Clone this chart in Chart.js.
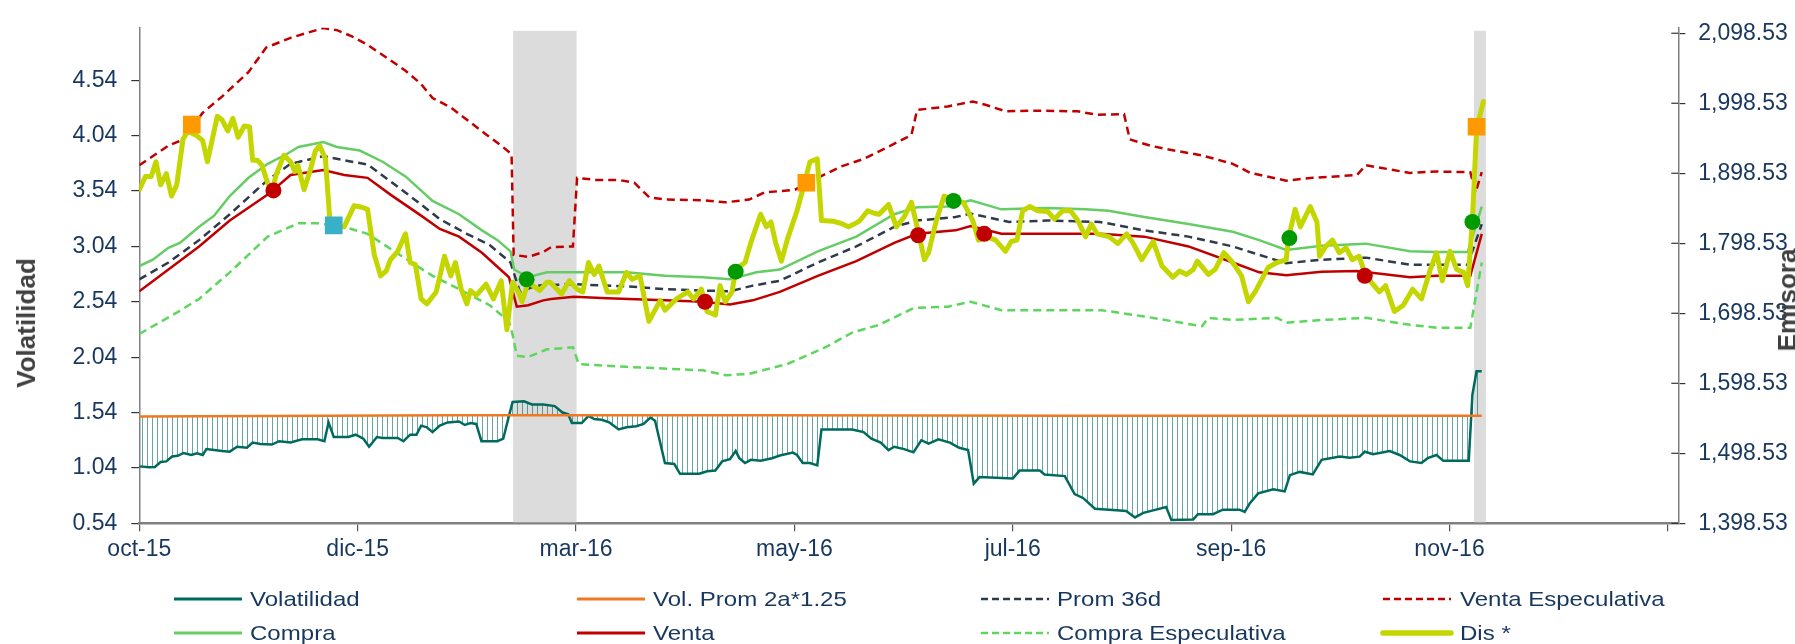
<!DOCTYPE html>
<html>
<head>
<meta charset="utf-8">
<script src="https://cdn.jsdelivr.net/npm/chart.js@4.4.0/dist/chart.umd.min.js"></script>
<style>
  body { margin: 0; background: #fff; overflow: hidden; }
  #wrap { position: relative; width: 1795px; height: 644px; overflow: hidden; font-family: "Liberation Sans", Arial, sans-serif; }
  #chart { position: absolute; left: 0; top: 0; }
  .leg { position: absolute; font-size: 21px; line-height: 21px; color: #17375E; white-space: nowrap; transform: scaleX(1.145); transform-origin: 0 50%; }
  .ttl { position: absolute; font-weight: bold; font-size: 26px; line-height: 26px; color: #404040; white-space: nowrap; transform: translate(-50%, -50%) rotate(-90deg); }
</style>
</head>
<body>
<div id="wrap">
  <canvas id="chart" width="1795" height="644"></canvas>
  <div class="ttl" style="left:26px; top:323px;">Volatilidad</div>
  <div class="ttl" style="left:1787px; top:300px;">Emisora</div>
</div>
<script>
// x axis: trading-day index, tick every 42 days
const tickPos = [0, 42, 84, 126, 168, 210, 252, 294];
const xLabels = ['oct-15', 'dic-15', 'mar-16', 'may-16', 'jul-16', 'sep-16', 'nov-16', ''];
const volTicks = [0.54, 1.04, 1.54, 2.04, 2.54, 3.04, 3.54, 4.04, 4.54];
const priceTicks = [1398.53, 1498.53, 1598.53, 1698.53, 1798.53, 1898.53, 1998.53, 2098.53];

// shaded periods (start, end day index)
const bandStart = [71.9, 256.7];
const bandEnd = [84.1, 259.0];

// Dis * (emisora price)
const disX = [0, 1.2, 2.3, 3.2, 4.1, 5.2, 6.2, 7.2, 8.4, 9.3, 11.1, 12.2, 13.1, 15.0, 15.9, 17.0, 18.0, 19.0, 20.2, 21.2,
  21.8, 22.7, 23.6, 24.7, 25.6, 26.3, 27.8, 29.1, 29.9, 30.5, 31.7, 32.8, 33.9, 34.7, 35.8, 36.6, 37.4, 39.4, 41.3, 42.8,
  43.9, 45.2, 46.4, 47.5, 48.3, 49.7, 51.2, 52.1, 53.1, 54.2, 55.3, 57.1, 58.7, 59.9, 60.8, 61.9, 63.0, 63.7, 64.8, 66.7,
  68.1, 69.6, 70.7, 71.8, 72.9, 73.6, 74.8, 77.0, 78.4, 79.0, 81.2, 82.7, 84.2, 85.3, 86.4, 87.5, 88.4, 90.0, 92.2, 93.7,
  94.8, 96.3, 98.0, 100.2, 101.1, 103.3, 105.5, 106.6, 108.1, 109.2, 110.8, 111.7, 112.7, 114.0, 114.7, 116.5, 117.6, 119.5, 120.6, 121.5,
  122.4, 123.5, 124.6, 126.5, 127.6, 129.0, 130.4, 131.2, 133.5, 134.9, 136.4, 137.5, 138.6, 140.1, 141.5, 142.3, 144.1, 145.6, 147.1, 148.5,
  149.6, 151.0, 151.8, 153.3, 154.8, 156.6, 158.5, 160.3, 161.4, 162.9, 164.7, 166.6, 167.7, 168.8, 169.9, 171.3, 172.8, 174.7, 176.0, 177.6,
  179.1, 180.5, 182.0, 183.1, 184.2, 186.5, 188.2, 189.9, 191.1, 192.8, 195.0, 196.7, 198.8, 200.1, 201.4, 202.7, 203.5, 205.6, 206.9, 208.6,
  210.3, 212.0, 213.3, 214.6, 215.9, 217.1, 218.8, 220.6, 221.0, 222.3, 223.3, 225.2, 226.5, 227.0, 228.2, 229.5, 230.8, 232.1, 233.3, 234.6,
  235.9, 238.5, 239.7, 241.4, 243.1, 244.9, 246.6, 248.3, 249.5, 250.6, 252.1, 253.4, 254.7, 255.5, 256.4, 257.2, 258.5];
const disY = [1875, 1894, 1894, 1915, 1882, 1898, 1866, 1882, 1947, 1959, 1952, 1945, 1915, 1980, 1975, 1959, 1977, 1950, 1966, 1965,
  1917, 1917, 1910, 1884, 1874, 1896, 1924, 1915, 1901, 1910, 1875, 1901, 1931, 1938, 1919, 1836, 1824, 1822, 1852, 1850,
  1847, 1782, 1752, 1759, 1775, 1787, 1812, 1771, 1768, 1719, 1712, 1729, 1780, 1752, 1771, 1733, 1712, 1731, 1724, 1740,
  1719, 1745, 1675, 1743, 1729, 1715, 1743, 1731, 1743, 1743, 1726, 1745, 1733, 1729, 1771, 1754, 1766, 1729, 1729, 1757,
  1747, 1752, 1687, 1717, 1703, 1719, 1729, 1719, 1733, 1701, 1696, 1738, 1715, 1729, 1761, 1771, 1799, 1840, 1822, 1829,
  1799, 1773, 1803, 1845, 1875, 1915, 1919, 1831, 1830, 1827, 1822, 1826, 1831, 1845, 1841, 1840, 1854, 1822, 1836, 1857,
  1822, 1775, 1785, 1831, 1866, 1860, 1857, 1831, 1803, 1808, 1803, 1787, 1801, 1803, 1845, 1851, 1845, 1844, 1833, 1845,
  1845, 1831, 1808, 1826, 1812, 1808, 1798, 1812, 1799, 1775, 1801, 1766, 1750, 1759, 1754, 1761, 1773, 1754, 1761, 1785,
  1771, 1752, 1715, 1729, 1747, 1764, 1771, 1775, 1805, 1847, 1822, 1851, 1829, 1780, 1794, 1803, 1785, 1792, 1775, 1780,
  1752, 1729, 1738, 1701, 1710, 1733, 1719, 1761, 1785, 1745, 1787, 1761, 1757, 1738, 1831, 1961, 2001];

// Compra
const compraX = [0, 2.6, 5.6, 7.8, 11.5, 14.4, 17.4, 21.0, 24.7, 28.4, 30.6, 35.4, 38.0, 42.4, 46.8, 51.2, 56.4, 61.5, 65.9, 68.9,
  71.4, 72.1, 74.8, 78.4, 86.4, 93.7, 101.1, 108.4, 113.6, 118.7, 123.2, 130.5, 137.9, 145.2, 149.6, 155.5, 159.9, 165.8, 174.7, 182.0,
  186.4, 193.3, 201.8, 210.3, 215.4, 220.6, 227.4, 235.9, 244.4, 249.5, 255.5, 258.2];
const compraY = [1766, 1775, 1792, 1799, 1822, 1838, 1866, 1892, 1912, 1926, 1936, 1943, 1936, 1931, 1915, 1894, 1859, 1840, 1817, 1803,
  1787, 1761, 1750, 1757, 1757, 1757, 1752, 1750, 1747, 1757, 1761, 1787, 1808, 1840, 1850, 1851, 1860, 1847, 1849, 1847,
  1845, 1836, 1826, 1815, 1803, 1789, 1795, 1798, 1787, 1786, 1786, 1851];

// Prom 36d
const promX = [0, 5.6, 11.5, 17.4, 24.7, 29.1, 35.4, 40.9, 43.9, 48.3, 54.2, 57.8, 63.0, 67.4, 71.4, 73.2, 76.2, 83.6, 93.7, 101.1,
  108.4, 113.6, 118.0, 123.2, 130.5, 137.9, 145.2, 149.6, 157.0, 159.9, 167.3, 174.7, 184.75, 193.3, 201.8, 210.3, 215.4, 220.6, 227.4, 235.9,
  244.4, 255.5, 258.2];
const promY = [1747, 1771, 1803, 1840, 1889, 1912, 1923, 1915, 1911, 1887, 1854, 1833, 1812, 1796, 1771, 1729, 1738, 1740, 1737, 1733,
  1731, 1730, 1738, 1745, 1771, 1794, 1822, 1831, 1836, 1841, 1829, 1831, 1829, 1817, 1808, 1794, 1782, 1770, 1775, 1778,
  1768, 1768, 1826];

// Venta
const ventaX = [0, 5.6, 11.5, 17.4, 24.7, 29.1, 35.4, 39.4, 43.9, 48.3, 54.2, 57.8, 61.5, 65.9, 71.1, 72.6, 74.8, 77.7, 79.2, 83.6,
  90.0, 101.1, 108.4, 113.6, 118.0, 123.2, 130.5, 137.9, 145.2, 149.6, 157.0, 159.9, 165.8, 174.7, 184.75, 193.3, 201.8, 210.3, 215.4, 220.6,
  227.4, 234.2, 244.4, 249.5, 256.0, 258.2];
const ventaY = [1730, 1761, 1794, 1831, 1868, 1896, 1903, 1896, 1892, 1868, 1838, 1819, 1808, 1785, 1750, 1708, 1710, 1717, 1719, 1722,
  1720, 1717, 1715, 1711, 1717, 1729, 1752, 1773, 1799, 1812, 1817, 1823, 1812, 1812, 1812, 1808, 1794, 1771, 1757, 1753,
  1758, 1759, 1750, 1752, 1752, 1812];

// Venta Especulativa
const ventaEspX = [0, 5.6, 8.5, 12.2, 15.9, 21.0, 24.4, 29.1, 35.4, 38.0, 40.9, 43.9, 47.5, 51.2, 54.2, 56.4, 60.0, 63.0, 66.7, 69.6,
  71.6, 72.0, 74.8, 77.7, 79.2, 83.4, 84.2, 87.8, 92.2, 95.2, 98.1, 101.1, 108.4, 112.8, 117.3, 120.2, 126.1, 130.5, 134.9, 139.3,
  144.5, 148.5, 149.6, 155.5, 160.3, 162.9, 166.6, 171.7, 180.5, 184.2, 189.4, 190.5, 194.4, 197.5, 204.4, 210.3, 213.7, 220.6, 225.7, 234.2,
  235.9, 244.4, 249.5, 256.0, 257.0, 258.2];
const ventaEspY = [1910, 1938, 1947, 1985, 2008, 2043, 2078, 2092, 2106, 2103, 2094, 2082, 2064, 2045, 2026, 2006, 1992, 1975, 1954, 1938,
  1926, 1782, 1779, 1786, 1793, 1794, 1892, 1889, 1889, 1885, 1864, 1861, 1860, 1857, 1861, 1871, 1875, 1892, 1908, 1919,
  1938, 1953, 1989, 1994, 2001, 1996, 1987, 1988, 1987, 1982, 1983, 1947, 1938, 1933, 1924, 1912, 1899, 1888, 1892, 1896,
  1910, 1899, 1901, 1900, 1871, 1900];

// Compra Especulativa
const compraEspX = [0, 7.1, 11.5, 17.4, 24.7, 30.6, 34.3, 39.4, 43.9, 50.5, 56.4, 61.5, 67.4, 71.1, 71.8, 72.6, 74.8, 78.4, 82.1, 83.4,
  84.5, 93.7, 108.4, 112.8, 117.3, 124.6, 132.0, 137.1, 142.3, 148.9, 155.5, 159.9, 165.8, 174.7, 185.0, 193.3, 204.4, 205.6, 210.3, 218.8,
  220.6, 227.4, 235.9, 244.4, 249.5, 256.0, 258.2];
const compraEspY = [1669, 1699, 1719, 1757, 1808, 1827, 1827, 1822, 1812, 1780, 1752, 1733, 1710, 1687, 1668, 1638, 1636, 1647, 1649, 1650,
  1626, 1622, 1617, 1610, 1612, 1626, 1650, 1671, 1682, 1706, 1708, 1715, 1703, 1703, 1703, 1694, 1680, 1692, 1689, 1692,
  1685, 1689, 1692, 1682, 1678, 1678, 1771];

// Volatilidad (left axis)
const volX = [0, 1.9, 3.0, 4.1, 5.2, 6.3, 7.4, 8.5, 10.0, 11.1, 12.2, 12.9, 14.4, 15.9, 17.4, 18.8, 20.7, 21.8, 23.3, 25.5,
  26.9, 29.1, 31.3, 34.3, 35.6, 36.4, 37.4, 40.2, 41.6, 43.1, 44.2, 45.7, 46.8, 49.7, 50.8, 52.1, 53.3, 54.2, 55.3, 56.4,
  57.8, 59.3, 61.5, 62.6, 63.7, 64.8, 65.8, 68.9, 70.0, 71.1, 71.8, 74.0, 75.5, 77.7, 79.9, 81.4, 82.5, 83.2, 85.1, 86.4,
  87.5, 88.9, 90.4, 92.2, 93.7, 95.6, 97.0, 98.3, 99.2, 101.1, 102.9, 104.0, 107.7, 109.2, 110.8, 112.1, 113.6, 114.7, 115.4, 116.5,
  117.6, 119.5, 121.7, 123.2, 125.7, 126.5, 127.6, 129.0, 130.4, 131.2, 137.1, 139.3, 140.8, 142.6, 144.1, 145.2, 147.1, 148.9, 150.4, 151.8,
  153.7, 155.9, 157.7, 159.4, 160.5, 161.6, 168.0, 169.3, 173.2, 174.1, 178.0, 179.9, 181.5, 183.8, 187.9, 189.8, 191.5, 193.1, 195.0, 197.5,
  198.5, 202.7, 203.6, 206.5, 208.4, 211.6, 212.6, 213.6, 215.2, 218.1, 220.3, 221.3, 223.2, 225.7, 227.4, 230.9, 232.8, 234.7, 235.7, 237.3,
  240.5, 242.4, 244.4, 246.6, 247.8, 249.5, 250.8, 253.0, 255.7, 256.4, 257.2, 258.2];
const volY = [1.054, 1.046, 1.049, 1.093, 1.099, 1.143, 1.149, 1.175, 1.157, 1.172, 1.157, 1.21, 1.201, 1.193, 1.187, 1.231, 1.222, 1.269, 1.257, 1.251,
  1.281, 1.269, 1.298, 1.298, 1.281, 1.451, 1.319, 1.319, 1.34, 1.304, 1.231, 1.319, 1.31, 1.31, 1.281, 1.34, 1.34, 1.422, 1.407, 1.363,
  1.422, 1.451, 1.46, 1.428, 1.445, 1.437, 1.281, 1.281, 1.304, 1.51, 1.636, 1.642, 1.613, 1.613, 1.598, 1.54, 1.525, 1.445, 1.445, 1.51,
  1.481, 1.475, 1.451, 1.387, 1.407, 1.416, 1.437, 1.495, 1.466, 1.084, 1.075, 0.987, 0.987, 1.01, 1.016, 1.099, 1.119, 1.193, 1.128, 1.084,
  1.113, 1.105, 1.128, 1.152, 1.178, 1.157, 1.084, 1.084, 1.063, 1.387, 1.387, 1.363, 1.304, 1.269, 1.201, 1.231, 1.21, 1.181, 1.29, 1.26,
  1.298, 1.269, 1.222, 1.201, 0.898, 0.957, 0.945, 1.016, 1.016, 0.981, 0.966, 0.804, 0.769, 0.672, 0.657, 0.651, 0.593, 0.634, 0.657, 0.687,
  0.569, 0.575, 0.622, 0.622, 0.663, 0.663, 0.643, 0.722, 0.81, 0.848, 0.828, 0.975, 1.004, 0.981, 1.113, 1.142, 1.133, 1.142, 1.186, 1.163,
  1.192, 1.157, 1.099, 1.084, 1.128, 1.157, 1.104, 1.104, 1.104, 1.701, 1.913, 1.913];

// Vol. Prom 2a*1.25
const volPromX = [0, 60, 120, 180, 240, 258.2];
const volPromY = [1.505, 1.515, 1.515, 1.51, 1.51, 1.51];

// signal markers (day index, price)
const orangeX = [10.1, 128.3, 257.2];
const orangeY = [1968, 1885, 1965];
const blueX = [37.4];
const blueY = [1824];
const redX = [25.8, 108.8, 149.8, 162.5, 235.7];
const redY = [1874, 1715, 1810, 1812, 1752];
const greenX = [74.5, 114.7, 156.6, 221.2, 256.4];
const greenY = [1747, 1758, 1859, 1806, 1829];

const pts = (xs, ys) => xs.map((x, i) => ({ x: x, y: ys[i] }));

const canvas = document.getElementById('chart');
const ctx = canvas.getContext('2d');

// vertical hatch between Volatilidad and its average
const pc = document.createElement('canvas');
pc.width = 5;
pc.height = 4;
const pctx = pc.getContext('2d');
pctx.fillStyle = 'rgba(0,106,94,0.6)';
pctx.fillRect(2, 0, 1, 4);
const hatch = ctx.createPattern(pc, 'repeat');

const tickColor = '#17375E';
const axisGray = '#808080';
const tickFont = { family: 'Liberation Sans', size: 23 };

// legend entries drawn under the plot
const legendItems = [
  { label: 'Volatilidad', color: '#006A5E', width: 3, dash: [] },
  { label: 'Vol. Prom 2a*1.25', color: '#F07820', width: 3, dash: [] },
  { label: 'Prom 36d', color: '#2F3A4A', width: 2.5, dash: [7, 4] },
  { label: 'Venta Especulativa', color: '#C00000', width: 2.5, dash: [7, 4] },
  { label: 'Compra', color: '#66CC66', width: 3, dash: [] },
  { label: 'Venta', color: '#C00000', width: 3, dash: [] },
  { label: 'Compra Especulativa', color: '#5CD65C', width: 2.5, dash: [7, 4] },
  { label: 'Dis *', color: '#C4D600', width: 5.5, dash: [] }
];
const legLineX = [174, 577, 981, 1383];
const legTextX = [250, 653, 1057, 1460];
const legRowY = [599, 633];

const wrap = document.getElementById('wrap');
legendItems.forEach((item, i) => {
  const d = document.createElement('div');
  d.className = 'leg';
  d.textContent = item.label;
  d.style.left = legTextX[i % 4] + 'px';
  d.style.top = (legRowY[Math.floor(i / 4)] - 11) + 'px';
  wrap.appendChild(d);
});

const extras = {
  id: 'extras',
  beforeDatasetsDraw(chart) {
    const { ctx, chartArea } = chart;
    const x = chart.scales.x;
    ctx.save();
    ctx.fillStyle = '#DCDCDC';
    bandStart.forEach((s, i) => {
      const x0 = x.getPixelForValue(s);
      const x1 = x.getPixelForValue(bandEnd[i]);
      ctx.fillRect(x0, chartArea.top + 3, x1 - x0, chartArea.bottom - chartArea.top - 4);
    });
    ctx.restore();
  },
  afterDraw(chart) {
    const { ctx } = chart;
    const y2 = chart.scales.y2;
    ctx.save();
    // inner half of the cross ticks on the right axis
    ctx.strokeStyle = '#333';
    ctx.lineWidth = 1.2;
    y2.ticks.forEach(t => {
      const py = y2.getPixelForValue(t.value);
      ctx.beginPath();
      ctx.moveTo(y2.left - 7, py);
      ctx.lineTo(y2.left, py);
      ctx.stroke();
    });
    // legend swatches
    legendItems.forEach((item, i) => {
      const lx = legLineX[i % 4];
      const ly = legRowY[Math.floor(i / 4)];
      ctx.strokeStyle = item.color;
      ctx.lineWidth = item.width;
      ctx.setLineDash(item.dash);
      ctx.lineCap = item.label === 'Dis *' ? 'round' : 'butt';
      ctx.beginPath();
      ctx.moveTo(lx, ly);
      ctx.lineTo(lx + 68, ly);
      ctx.stroke();
    });
    ctx.restore();
  }
};

const priceLine = (label, xs, ys, color, width, dash, order) => ({
  label: label,
  data: pts(xs, ys),
  yAxisID: 'y2',
  borderColor: color,
  borderWidth: width,
  borderDash: dash,
  pointRadius: 0,
  fill: false,
  tension: 0,
  order: order
});

const marker = (xs, ys, color, style, radius) => ({
  data: pts(xs, ys),
  yAxisID: 'y2',
  showLine: false,
  pointStyle: style,
  pointRadius: radius,
  backgroundColor: color,
  borderColor: color,
  borderWidth: 0,
  order: 0
});

new Chart(ctx, {
  type: 'line',
  data: {
    datasets: [
      marker(orangeX, orangeY, '#FF9900', 'rect', 12.5),
      marker(blueX, blueY, '#3AB0C8', 'rect', 12.5),
      marker(redX, redY, '#C00000', 'circle', 8),
      marker(greenX, greenY, '#009A00', 'circle', 8),
      Object.assign(priceLine('Dis *', disX, disY, '#C4D600', 5, [], 1), { borderJoinStyle: 'round', borderCapStyle: 'round' }),
      priceLine('Venta Especulativa', ventaEspX, ventaEspY, '#C00000', 2.5, [8, 5], 2),
      priceLine('Compra Especulativa', compraEspX, compraEspY, '#5CD65C', 2.5, [8, 5], 3),
      priceLine('Compra', compraX, compraY, '#66CC66', 2.5, [], 4),
      priceLine('Prom 36d', promX, promY, '#2F3A4A', 2.5, [8, 5], 5),
      priceLine('Venta', ventaX, ventaY, '#C00000', 2.5, [], 6),
      {
        label: 'Volatilidad',
        data: pts(volX, volY),
        yAxisID: 'y',
        borderColor: '#006A5E',
        borderWidth: 2.5,
        pointRadius: 0,
        tension: 0,
        fill: { target: '+1', above: hatch, below: hatch },
        backgroundColor: hatch,
        order: 8
      },
      {
        label: 'Vol. Prom 2a*1.25',
        data: pts(volPromX, volPromY),
        yAxisID: 'y',
        borderColor: '#F07820',
        borderWidth: 2.5,
        pointRadius: 0,
        tension: 0,
        fill: false,
        order: 7
      }
    ]
  },
  options: {
    responsive: false,
    animation: false,
    events: [],
    layout: { padding: { left: 0, right: 0, top: 16, bottom: 80.7 } },
    plugins: { legend: { display: false }, tooltip: { enabled: false } },
    scales: {
      x: {
        type: 'linear',
        min: 0,
        max: 296,
        afterBuildTicks: axis => { axis.ticks = tickPos.map(v => ({ value: v })); },
        afterFit: axis => { axis.height = 40; },
        ticks: {
          autoSkip: false,
          maxRotation: 0,
          padding: 5,
          color: tickColor,
          font: tickFont,
          callback: v => { const i = tickPos.indexOf(v); return i >= 0 ? xLabels[i] : ''; }
        },
        grid: { drawOnChartArea: false, tickLength: 8, color: '#555', lineWidth: 1.2 },
        border: { color: axisGray, width: 2.5 }
      },
      y: {
        position: 'left',
        min: 0.54,
        max: 5.014,
        afterBuildTicks: axis => { axis.ticks = volTicks.map(v => ({ value: v })); },
        afterFit: axis => { axis.width = 139.3; },
        ticks: {
          padding: 14,
          color: tickColor,
          font: tickFont,
          callback: v => v.toFixed(2)
        },
        grid: { drawOnChartArea: false, tickLength: 8, color: '#333', lineWidth: 1.2 },
        border: { color: axisGray, width: 1.5 }
      },
      y2: {
        position: 'right',
        min: 1398.53,
        max: 2106.3,
        afterBuildTicks: axis => { axis.ticks = priceTicks.map(v => ({ value: v })); },
        afterFit: axis => { axis.width = 116.7; },
        ticks: {
          padding: 13,
          color: tickColor,
          font: tickFont,
          callback: v => v.toLocaleString('en-US', { minimumFractionDigits: 2, maximumFractionDigits: 2 })
        },
        grid: { drawOnChartArea: false, tickLength: 7, color: '#333', lineWidth: 1.2 },
        border: { color: axisGray, width: 1.5 }
      }
    }
  },
  plugins: [extras]
});
</script>
</body>
</html>
